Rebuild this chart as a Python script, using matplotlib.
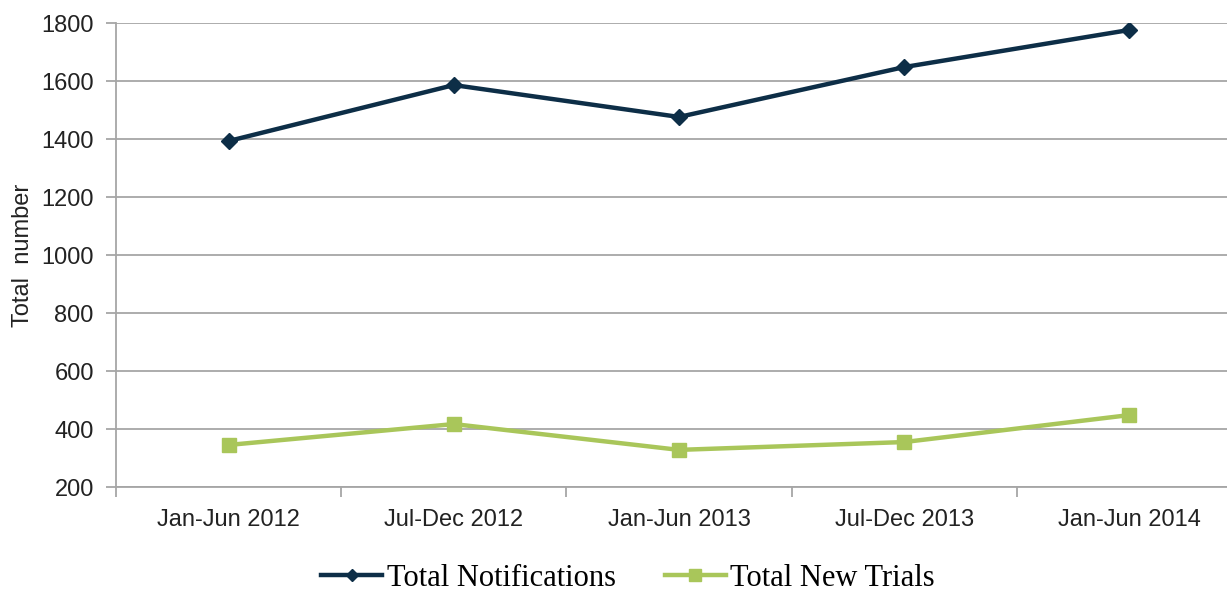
import matplotlib
matplotlib.use("Agg")
import matplotlib.pyplot as plt
import numpy as np

categories = ["Jan-Jun 2012", "Jul-Dec 2012", "Jan-Jun 2013", "Jul-Dec 2013", "Jan-Jun 2014"]
total_notifications = [1393, 1586, 1476, 1648, 1776]
total_new_trials = [345, 417, 328, 355, 448]
y_ticks = [200, 400, 600, 800, 1000, 1200, 1400, 1600, 1800]

W, H = 1227, 592
fig = plt.figure(figsize=(W / 100, H / 100), dpi=100)
ax = fig.add_axes([116 / W, 1 - 487 / H, (1242 - 116) / W, 464 / H])

navy = "#0D2E47"
green = "#A9C65A"
grid = "#A6A6A6"

x = np.arange(len(categories))
ax.plot(x, total_notifications, color=navy, lw=3.2, marker="D", ms=8,
        label="Total Notifications", zorder=3)
ax.plot(x, total_new_trials, color=green, lw=3.2, marker="s", ms=10,
        label="Total New Trials", zorder=3)

ax.set_xlim(-0.5, len(categories) - 0.5)
ax.set_ylim(200, 1800)
ax.set_yticks(y_ticks)
ax.set_yticklabels([str(v) for v in y_ticks], fontsize=17, family="Liberation Sans", color="#222222")
ax.yaxis.grid(True, color=grid, lw=1.3)
ax.set_axisbelow(True)

ax.set_xticks(np.arange(-0.5, len(categories) + 0.5, 1))
ax.set_xticklabels([])
ax.set_xticks(x, minor=True)
ax.set_xticklabels(categories, minor=True, fontsize=17, family="Liberation Sans", color="#222222")
ax.tick_params(axis="x", which="major", length=7, color=grid, width=1.3)
ax.tick_params(axis="x", which="minor", length=0, pad=16)
ax.tick_params(axis="y", length=7, color=grid, width=1.3, pad=9)

for s in ["top", "right"]:
    ax.spines[s].set_visible(False)
for s in ["left", "bottom"]:
    ax.spines[s].set_color(grid)
    ax.spines[s].set_linewidth(1.3)

ax.set_ylabel("Total  number", fontsize=17, family="Liberation Sans", color="#222222", labelpad=5)

leg = fig.legend(loc="center", bbox_to_anchor=(628 / W, 1 - 578 / H), ncol=2, frameon=False,
                 prop={"family": "Liberation Serif", "size": 22}, handlelength=2.0,
                 handletextpad=0.15, columnspacing=1.6, markerscale=0.8)

fig.savefig("out.png", dpi=100)
